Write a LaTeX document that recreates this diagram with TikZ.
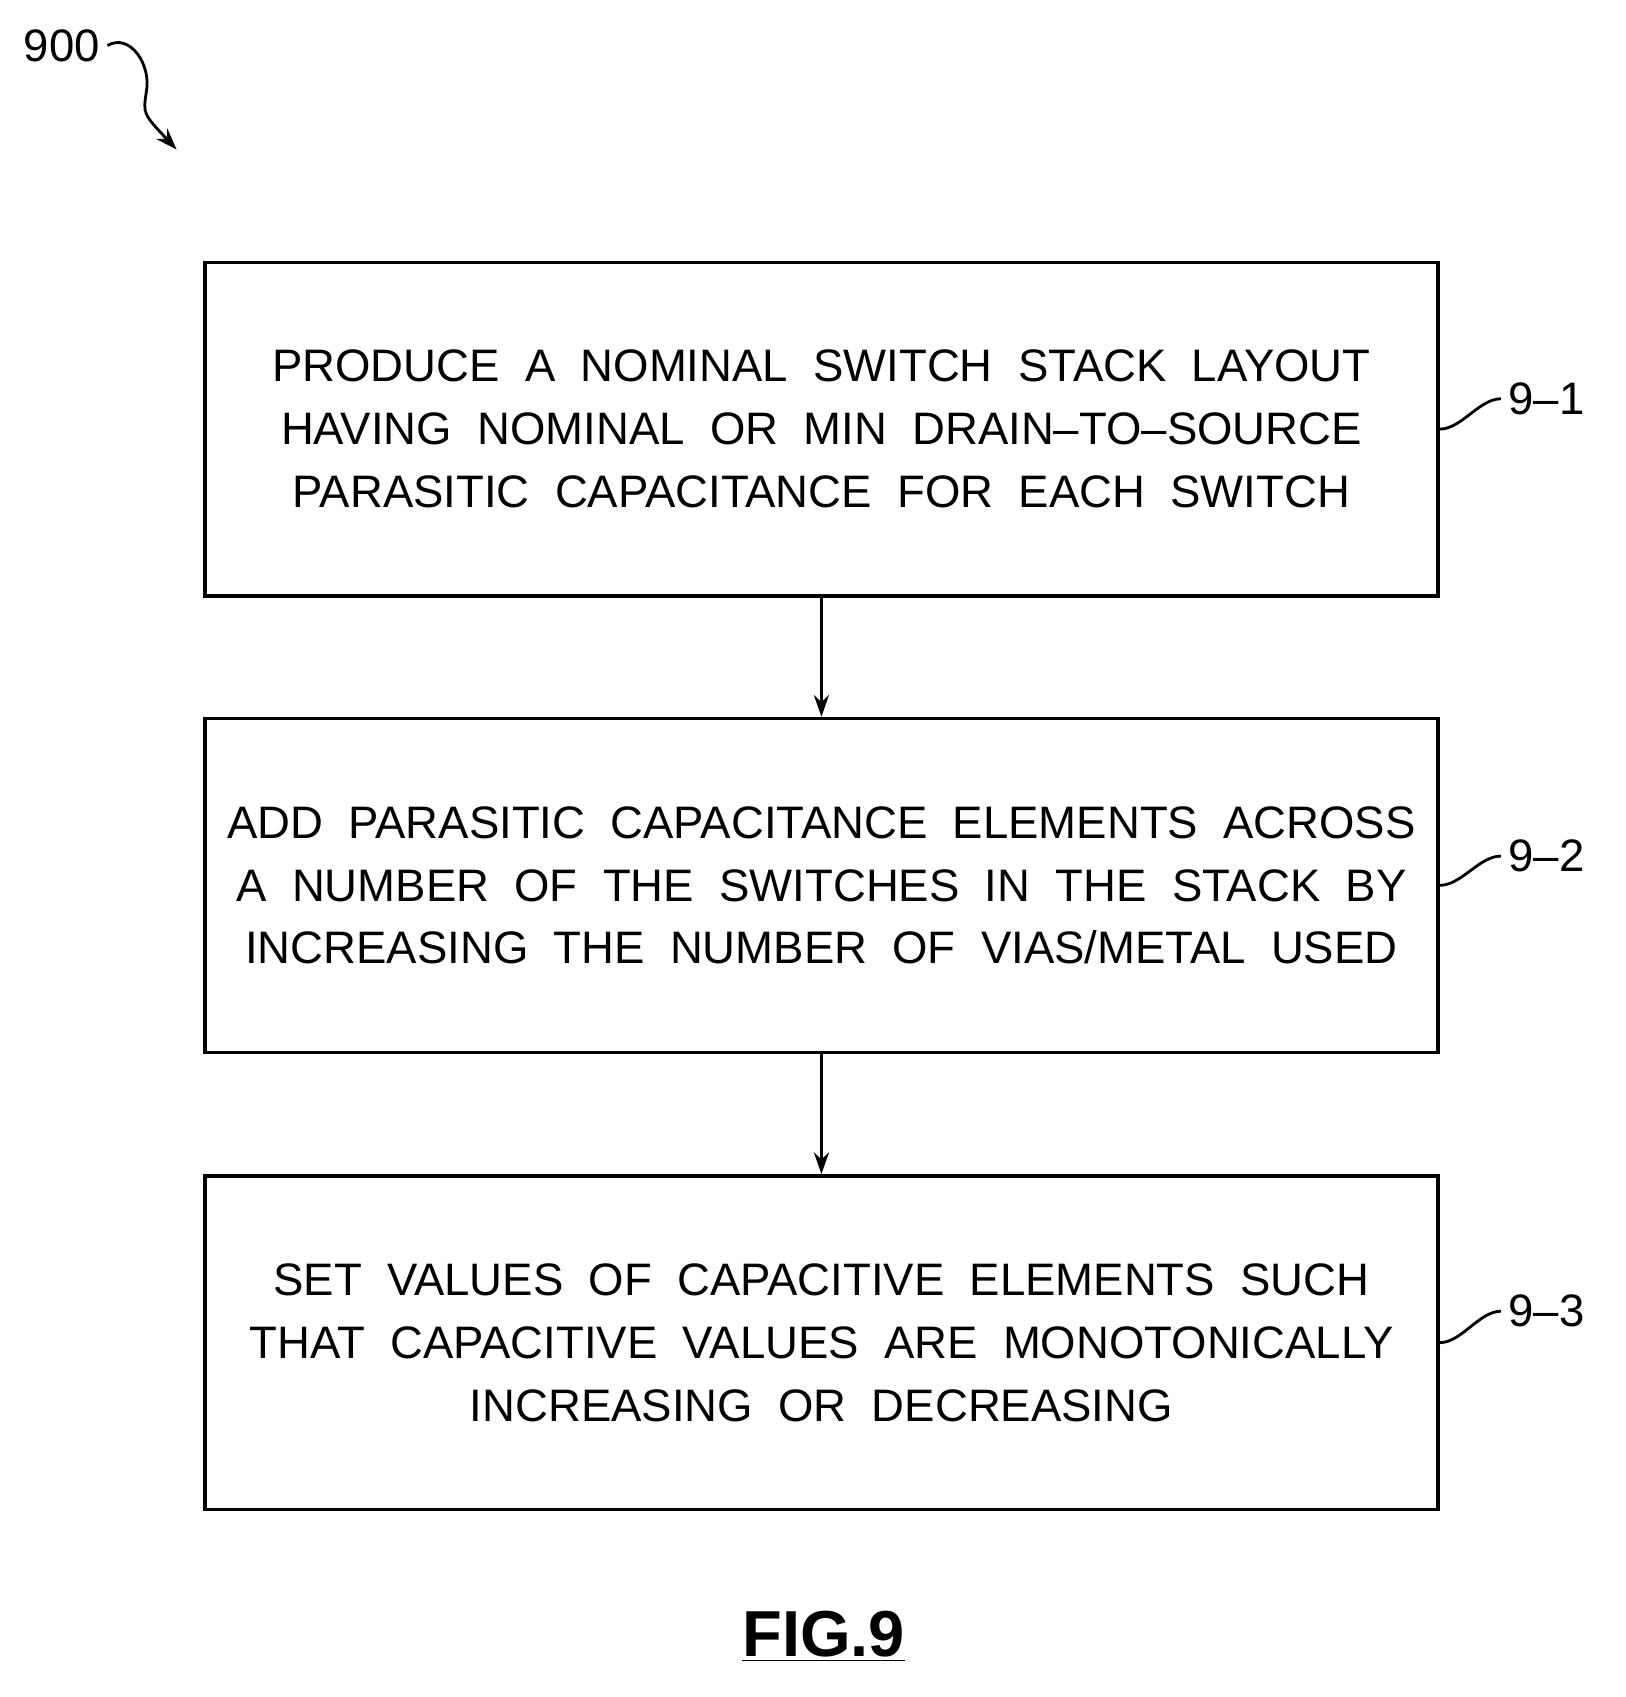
\documentclass[tikz,border=0pt]{standalone}
\usepackage{fontspec}
\setmainfont{Liberation Sans}
\usetikzlibrary{arrows.meta}
\begin{document}
\begin{tikzpicture}[x=0.5pt,y=-0.5pt,
  box/.style={draw,line width=1.6pt,minimum width=569pt,minimum height=154pt,align=center,font=\fontsize{21}{29}\selectfont,inner sep=0pt},
  arr/.style={line width=1.3pt,-{Stealth[length=10pt,width=7pt]}},
  lab/.style={font=\fontsize{21}{24}\selectfont,anchor=west}]
\useasboundingbox (0,0) rectangle (1500,1566);
\node[box] (b1) at (758,396) {PRODUCE\ \ A\ \ NOMINAL\ \ SWITCH\ \ STACK\ \ LAYOUT\\HAVING\ \ NOMINAL\ \ OR\ \ MIN\ \ DRAIN--TO--SOURCE\\PARASITIC\ \ CAPACITANCE\ \ FOR\ \ EACH\ \ SWITCH};
\node[box] (b2) at (758,817) {ADD\ \ PARASITIC\ \ CAPACITANCE\ \ ELEMENTS\ \ ACROSS\\A\ \ NUMBER\ \ OF\ \ THE\ \ SWITCHES\ \ IN\ \ THE\ \ STACK\ \ BY\\INCREASING\ \ THE\ \ NUMBER\ \ OF\ \ VIAS/METAL\ \ USED};
\node[box] (b3) at (758,1239) {SET\ \ VALUES\ \ OF\ \ CAPACITIVE\ \ ELEMENTS\ \ SUCH\\THAT\ \ CAPACITIVE\ \ VALUES\ \ ARE\ \ MONOTONICALLY\\INCREASING\ \ OR\ \ DECREASING};
\draw[arr] (b1.south) -- (b2.north);
\draw[arr] (b2.south) -- (b3.north);
\node[lab] (l1) at (1385,368) {9--1};
\node[lab] (l2) at (1385,790) {9--2};
\node[lab] (l3) at (1385,1210) {9--3};
\foreach \b/\l in {b1/l1,b2/l2,b3/l3}
  \draw[line width=1.3pt] (\b.east) .. controls +(20,0) and +(-20,0) .. (\l.west);
\node[font=\fontsize{21}{24}\selectfont] (n900) at (57,42) {900};
\coordinate (t900) at (163,138);
\draw[arr] (n900.east) .. controls (120,30) and (140,60) .. (135,85) .. controls (132,105) .. (t900);
\node[font=\bfseries\fontsize{30}{34}\selectfont] (fig) at (760,1510) {\underline{FIG.9}};
\end{tikzpicture}
\end{document}
